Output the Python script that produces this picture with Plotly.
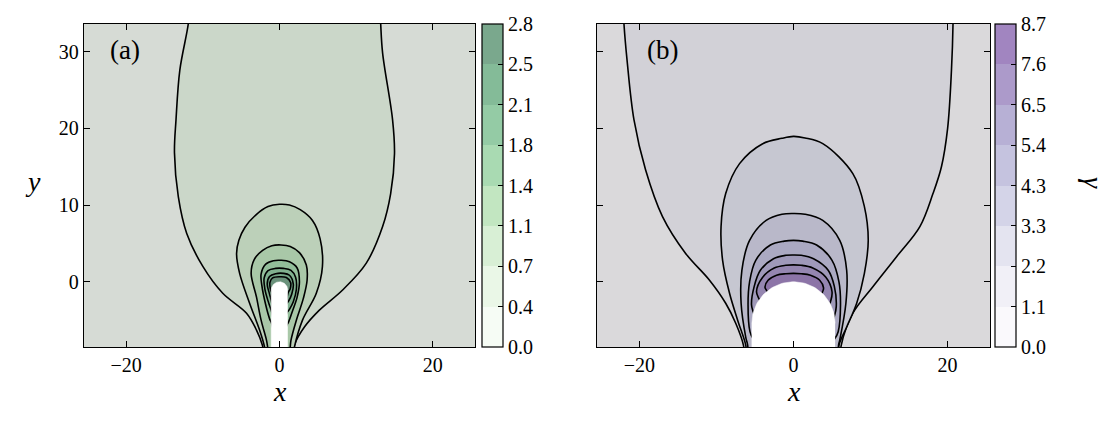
import numpy as np
import plotly.graph_objects as go
from plotly.colors import sample_colorscale

# ---------------- data ----------------
levels_a = [0.0, 0.35, 0.7, 1.05, 1.4, 1.75, 2.1, 2.45, 2.8]
labels_a = ["0.0", "0.4", "0.7", "1.1", "1.4", "1.8", "2.1", "2.5", "2.8"]
levels_b = [0.0, 1.0875, 2.175, 3.2625, 4.35, 5.4375, 6.525, 7.6125, 8.7]
labels_b = ["0.0", "1.1", "2.2", "3.3", "4.3", "5.4", "6.5", "7.6", "8.7"]

x_ticks = [-20, 0, 20]
y_ticks = [0, 10, 20, 30]
x_range = [-25.5, 25.5]
y_range = [-8.5, 33.6]

# contour lines of panel (a), one per interior level (levels_a[1..7])
a1_x = [-2.0, -2.25, -3.0, -4.3, -7.4, -10.0, -12.1, -13.2, -13.7, -13.5, -13.0, -11.9, -11.7,
        13.1, 13.2, 13.45, 14.75, 15.0, 14.5, 13.45, 11.3, 8.2, 5.2, 3.25, 1.95, 1.7]
a1_y = [-9.5, -8.2, -6.3, -4.1, -1.5, 2.0, 6.3, 11.1, 16.8, 21.1, 27.6, 33.6, 36.0,
        36.0, 33.6, 29.8, 21.1, 16.7, 11.5, 7.2, 2.4, -1.1, -3.7, -5.9, -8.2, -9.5]
a2_x = [-1.8, -1.95, -2.6, -3.9, -5.2, -5.6, -5.3, -4.5, -3.1, -1.5, 0.0, 1.3, 2.7, 4.3, 5.3, 5.6, 4.8, 3.0, 1.95, 1.8]
a2_y = [-9.5, -8.5, -6.3, -2.8, 1.1, 3.7, 5.4, 7.1, 8.7, 9.8, 10.1, 10.0, 9.4, 8.0, 5.6, 2.0, -1.5, -5.0, -8.5, -9.5]
a3_x = [-1.4, -1.55, -1.7, -2.4, -3.0, -3.7, -3.3, -2.2, -1.0, 0.2, 1.4, 2.6, 3.5, 3.6, 3.1, 2.2, 1.5, 1.4, 1.3]
a3_y = [-9.5, -8.5, -7.6, -5.0, -2.0, 1.1, 2.9, 4.1, 4.7, 4.8, 4.6, 3.8, 2.2, 0.2, -2.2, -5.0, -7.6, -8.5, -9.5]
a4_x = [-0.3, -1.0, -1.3, -1.8, -2.3, -2.4, -1.8, -0.8, 0.2, 1.3, 2.3, 2.6, 2.3, 1.7, 1.2, 0.9, 0.3]
a4_y = [-9.5, -5.5, -4.8, -3.0, -0.5, 1.0, 2.3, 2.75, 2.8, 2.6, 1.8, 0.0, -2.0, -3.8, -5.2, -5.8, -9.5]
a5_x = [-0.3, -1.0, -1.4, -1.9, -2.0, -1.5, -0.5, 0.5, 1.5, 2.1, 2.2, 1.8, 1.3, 0.9, 0.3]
a5_y = [-9.5, -4.0, -2.8, -1.0, 0.5, 1.45, 1.75, 1.75, 1.5, 0.6, -1.0, -2.6, -3.6, -4.2, -9.5]
a6_x = [-0.3, -1.0, -1.3, -1.6, -1.3, -0.5, 0.5, 1.3, 1.8, 1.6, 1.2, 0.9, 0.3]
a6_y = [-9.5, -2.8, -1.6, -0.3, 0.7, 1.05, 1.1, 0.85, -0.3, -1.6, -2.5, -2.9, -9.5]
a7_x = [-0.3, -1.0, -1.2, -1.25, -0.9, 0.0, 0.9, 1.45, 1.4, 1.1, 0.3]
a7_y = [-9.5, -1.6, -0.9, -0.1, 0.5, 0.65, 0.55, -0.1, -0.9, -1.5, -9.5]

# contour lines of panel (b), one per interior level (levels_b[1..7])
b1_x = [-6.4, -6.5, -7.5, -8.8, -10.9, -14.0, -17.0, -19.2, -20.7, -21.6, -22.0, -22.1,
        20.7, 20.7, 20.5, 20.0, 19.2, 18.1, 16.4, 13.4, 10.3, 7.7, 6.2, 6.1]
b1_y = [-9.5, -8.25, -5.4, -2.8, 0.2, 3.7, 8.5, 14.6, 21.1, 28.9, 33.6, 36.0,
        36.0, 33.6, 27.6, 20.0, 15.0, 11.5, 7.2, 3.3, -0.65, -4.1, -8.25, -9.5]
b2_x = [-6.1, -6.2, -7.25, -8.3, -9.2, -9.4, -8.8, -7.0, -4.0, -1.5, 0.0, 1.5, 3.8, 7.7, 9.2, 9.7, 9.2, 8.2, 6.9, 5.9, 5.8]
b2_y = [-9.5, -8.25, -5.0, -1.5, 2.8, 7.2, 11.5, 15.4, 18.0, 18.7, 18.95, 18.75, 18.0, 14.1, 9.8, 5.4, 1.1, -2.8, -5.9, -8.25, -9.5]
b3_x = [-5.9, -5.95, -6.2, -6.8, -6.7, -5.7, -3.55, -1.5, 0.0, 1.5, 3.8, 6.0, 6.9, 6.8, 6.0, 5.85, 5.8]
b3_y = [-9.5, -8.25, -7.2, -2.8, 1.5, 5.4, 8.0, 8.8, 8.9, 8.8, 8.0, 5.4, 1.5, -2.8, -7.6, -8.25, -9.5]
b4_x = [-3.0, -5.2, -5.65, -5.9, -5.7, -4.9, -3.0, -1.2, 0.0, 1.2, 3.0, 5.0, 5.9, 6.1, 5.8, 5.3, 3.0]
b4_y = [-9.5, -7.5, -6.5, -3.0, 0.0, 2.8, 4.8, 5.3, 5.4, 5.3, 4.8, 2.8, 0.0, -3.0, -6.5, -7.5, -9.5]
b5_x = [-3.0, -5.2, -5.45, -5.1, -4.3, -2.6, -1.0, 0.0, 1.0, 2.6, 4.5, 5.3, 5.55, 5.3, 3.0]
b5_y = [-9.5, -4.0, -3.0, -0.6, 1.5, 3.0, 3.45, 3.5, 3.45, 3.0, 1.5, -0.6, -3.2, -4.5, -9.5]
b6_x = [-2.0, -4.3, -4.8, -4.0, -2.5, -1.0, 0.0, 1.0, 2.5, 4.2, 5.0, 4.8, 2.0]
b6_y = [-9.5, -2.6, -1.3, 0.6, 1.8, 2.15, 2.2, 2.15, 1.8, 0.6, -1.3, -2.6, -9.5]
b7_x = [-1.0, -3.4, -3.7, -3.3, -2.2, -1.0, 0.0, 1.0, 2.2, 3.4, 3.9, 3.7, 1.0]
b7_y = [-9.5, -1.3, -0.7, 0.2, 0.85, 1.05, 1.1, 1.05, 0.85, 0.2, -0.8, -1.5, -9.5]

# obstacles (rounded-top bodies, white, no data)
rod_a = {"half_width": 1.08, "top": 0.0}
body_b = {"half_width": 5.4, "top": 0.0}

contours_a = [(a1_x, a1_y), (a2_x, a2_y), (a3_x, a3_y), (a4_x, a4_y),
              (a5_x, a5_y), (a6_x, a6_y), (a7_x, a7_y)]
contours_b = [(b1_x, b1_y), (b2_x, b2_y), (b3_x, b3_y), (b4_x, b4_y),
              (b5_x, b5_y), (b6_x, b6_y), (b7_x, b7_y)]

# ---------------- styling ----------------
FONT = "Liberation Serif"
ALPHA = 0.52          # transparency of the field colours
SHADE = 0.87          # darkening by the particle layer inside the plot


def parse(c):
    return [float(v) for v in c[c.index("(") + 1:c.index(")")].split(",")]


def band_colors(scale, n):
    mids = [(i + 0.5) / n for i in range(n)]
    raw = [parse(c) for c in sample_colorscale(scale, mids)]
    bar, plot = [], []
    for r in raw:
        a = [255 * (1 - ALPHA) + ALPHA * v for v in r]
        bar.append("rgb(%d,%d,%d)" % tuple(round(v) for v in a))
        plot.append("rgb(%d,%d,%d)" % tuple(round(v * SHADE) for v in a))
    return bar, plot


def discrete_scale(cols):
    n = len(cols)
    cs = []
    for i, c in enumerate(cols):
        cs.append([i / n, c])
        cs.append([(i + 1) / n, c])
    return cs


def obstacle_xy(ob):
    r, top = ob["half_width"], ob["top"]
    t = np.linspace(0, np.pi, 60)
    xs = list(r * np.cos(t)) + [-r, r]
    ys = list(top - r + r * np.sin(t)) + [-12, -12]
    return xs, ys


bar_a, plot_a = band_colors("Greens", 8)
bar_b, plot_b = band_colors("Purples", 8)

fig = go.Figure()

panels = [
    ("x", "y", contours_a, plot_a, bar_a, levels_a, labels_a, rod_a, 482),
    ("x2", "y2", contours_b, plot_b, bar_b, levels_b, labels_b, body_b, 995),
]

W, H = 1118, 423
for xa, ya, conts, pcols, bcols, lev, lab, ob, cbx in panels:
    for k, (cx, cy) in enumerate(conts):
        fig.add_trace(go.Scatter(
            x=cx, y=cy, xaxis=xa, yaxis=ya, mode="lines", fill="toself",
            fillcolor=pcols[k + 1], line=dict(color="black", width=1.6),
            line_shape="spline", hoverinfo="skip", showlegend=False))
    ox, oy = obstacle_xy(ob)
    fig.add_trace(go.Scatter(
        x=ox, y=oy, xaxis=xa, yaxis=ya, mode="lines", fill="toself",
        fillcolor="white", line=dict(color="white", width=0.5),
        hoverinfo="skip", showlegend=False))
    # colour bar carrier
    fig.add_trace(go.Scatter(
        x=[0], y=[-20], xaxis=xa, yaxis=ya, mode="markers",
        marker=dict(size=1, color=[lev[0]], cmin=lev[0], cmax=lev[-1],
                    colorscale=discrete_scale(bcols), showscale=True,
                    colorbar=dict(
                        x=cbx / W, xanchor="left", xpad=0, ypad=0,
                        y=1 - (24 + 347) / 2 / H, yanchor="middle",
                        lenmode="pixels", len=323, thickness=21,
                        outlinecolor="black", outlinewidth=1.2,
                        tickmode="array", tickvals=lev, ticktext=lab,
                        ticks="inside", ticklen=5, tickcolor="black",
                        tickwidth=1.2,
                        tickfont=dict(family=FONT, size=20, color="black"))),
        hoverinfo="skip", showlegend=False))

for xa, ya, dom, col in [("xaxis", "yaxis", [84 / W, 475 / W], plot_a[0]),
                         ("xaxis2", "yaxis2", [597 / W, 990 / W], plot_b[0])]:
    axis_common = dict(showgrid=False, zeroline=False, showline=True, linecolor="black",
                       linewidth=1.3, mirror="ticks", ticks="inside", ticklen=6,
                       tickwidth=1.2, tickcolor="black",
                       tickfont=dict(family=FONT, size=20, color="black"))
    fig.layout[xa] = dict(domain=dom, range=x_range, tickvals=x_ticks,
                          anchor=ya.replace("axis", ""), **axis_common)
    fig.layout[ya] = dict(domain=[1 - 347 / H, 1 - 24 / H], range=y_range,
                          tickvals=y_ticks, anchor=xa.replace("axis", ""),
                          showticklabels=(xa == "xaxis"), **axis_common)
    fig.add_shape(type="rect", xref=xa.replace("axis", "") + " domain",
                  yref=ya.replace("axis", "") + " domain", x0=0, x1=1, y0=0, y1=1,
                  fillcolor=col, line=dict(width=0), layer="below")

ann = [
    dict(text="(a)", x=125 / W, y=1 - 50 / H, size=27, style="normal", angle=0),
    dict(text="(b)", x=662 / W, y=1 - 50 / H, size=27, style="normal", angle=0),
    dict(text="x", x=280 / W, y=1 - 391 / H, size=28, style="italic", angle=0),
    dict(text="x", x=794 / W, y=1 - 391 / H, size=28, style="italic", angle=0),
    dict(text="y", x=33 / W, y=1 - 182 / H, size=28, style="italic", angle=0),
    dict(text="γ", x=1094 / W, y=1 - 183 / H, size=28, style="italic", angle=90),
]
for a in ann:
    fig.add_annotation(text=a["text"], x=a["x"], y=a["y"], xref="paper", yref="paper",
                       xanchor="center", yanchor="middle", showarrow=False,
                       textangle=a["angle"],
                       font=dict(family=FONT, size=a["size"], color="black",
                                 style=a["style"]))

fig.update_layout(width=W, height=H, margin=dict(l=0, r=0, t=0, b=0),
                  paper_bgcolor="white", plot_bgcolor="white", showlegend=False)

fig.write_html("out.html")
